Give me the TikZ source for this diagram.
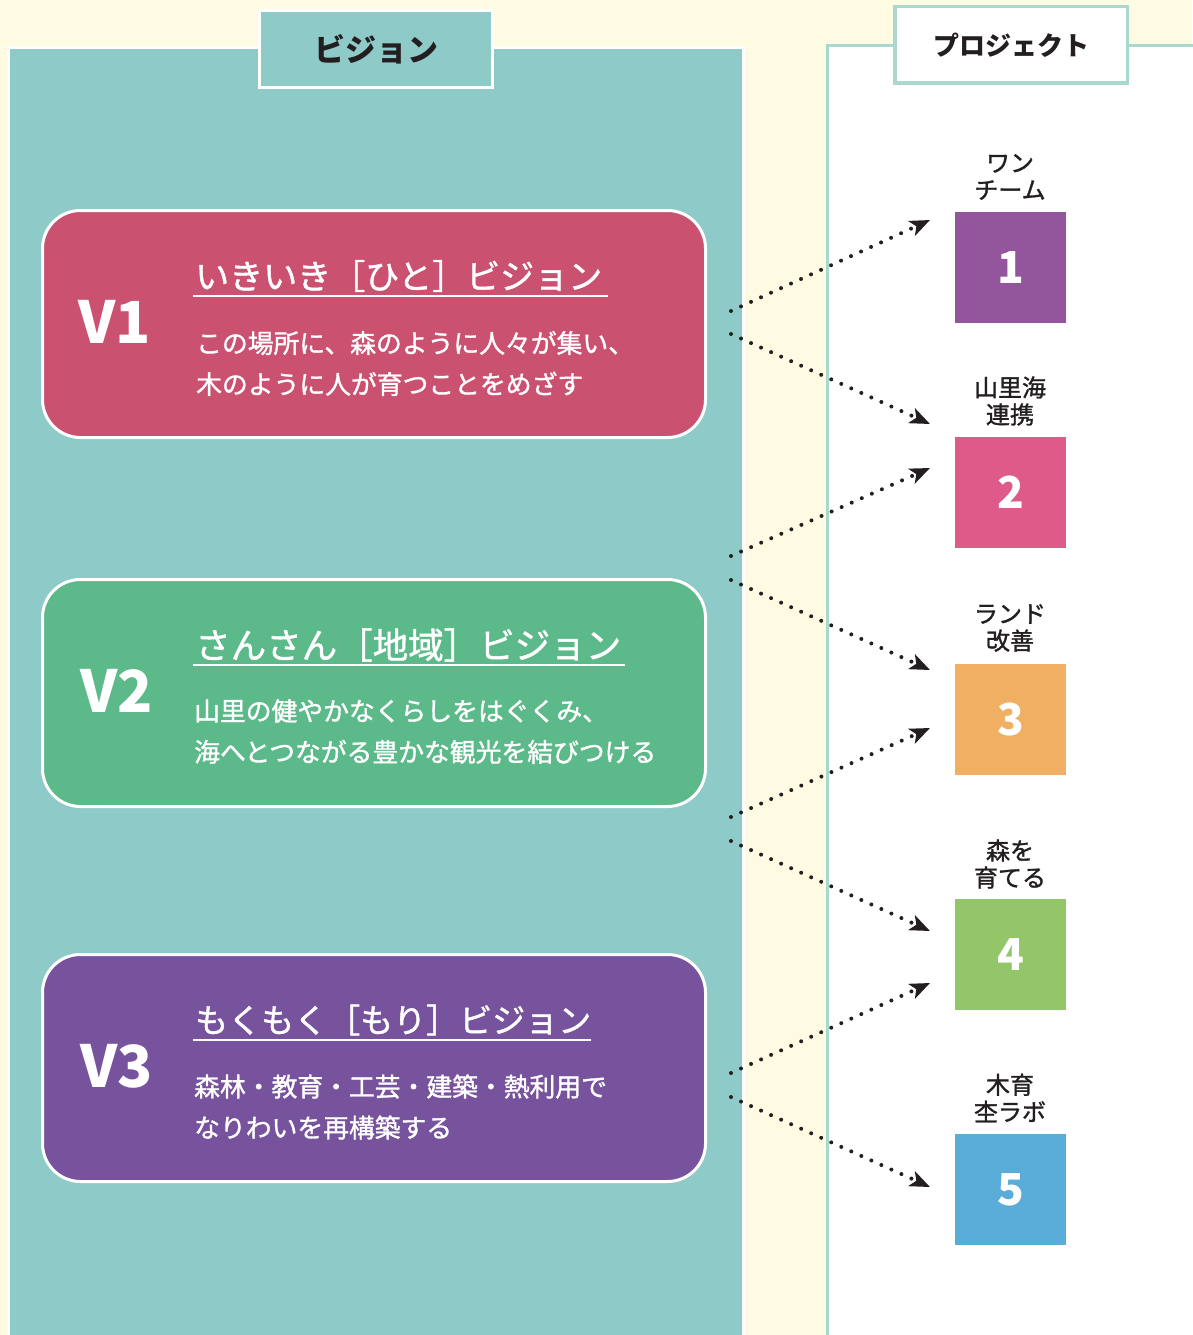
\documentclass[tikz,border=0pt]{standalone}
\usepackage{fontspec}
\setmainfont{Noto Sans CJK JP}
\newfontfamily\jpmed{Noto Sans CJK JP}[FakeBold=1.3]
\usetikzlibrary{arrows.meta}
\definecolor{cream}{HTML}{FFFBE3}
\definecolor{tealp}{HTML}{8ECAC7}
\definecolor{mint}{HTML}{A9D8CE}
\definecolor{inkc}{HTML}{231F20}
\definecolor{vone}{HTML}{CB5171}
\definecolor{vtwo}{HTML}{5CB98A}
\definecolor{vthree}{HTML}{77529D}
\definecolor{pone}{HTML}{93559B}
\definecolor{ptwo}{HTML}{DE5A88}
\definecolor{pthree}{HTML}{F0AF62}
\definecolor{pfour}{HTML}{93C569}
\definecolor{pfive}{HTML}{59ADD8}
\tikzset{
  visbox/.style={draw=white, line width=3pt, rounded corners=38pt, minimum width=663pt, minimum height=227pt},
  vlabel/.style={text=white, font=\fontsize{58}{60}\selectfont\bfseries, inner sep=0pt},
  vtitle/.style={text=white, anchor=west, inner sep=0pt},
  vdesc/.style={text=white, anchor=west, inner sep=0pt, align=left, font=\jpmed\fontsize{25.8}{41}\selectfont},
  uline/.style={white, line width=2pt},
  psq/.style={minimum width=111pt, minimum height=111pt, inner sep=0pt, text=white, font=\fontsize{44}{44}\selectfont\bfseries},
  plabel/.style={text=inkc, align=center, inner sep=0pt, font=\jpmed\fontsize{24}{27}\selectfont},
  dotarrow/.style={inkc, line width=4pt, line cap=round, dash pattern=on 0pt off 11pt, -{Stealth[length=20pt,width=16pt,inset=5pt]}}
}
\begin{document}
\begin{tikzpicture}[x=1pt,y=-1pt]
\useasboundingbox (0,0) rectangle (1192,1335);
\fill[cream] (0,0) rectangle (1192,1335);
% left panel
\draw[white, line width=3pt, fill=tealp] (8,48) rectangle (743,1345);
\node[draw=white, line width=3pt, fill=tealp, minimum width=233pt, minimum height=77pt, inner sep=0pt, text=inkc, font=\fontsize{31}{32}\selectfont\bfseries] (vtab) at (376,49) {ビジョン};
% right panel
\draw[mint, line width=3.5pt, fill=white] (827.5,45.5) rectangle (1205,1345);
\node[draw=mint, line width=3.5pt, fill=white, minimum width=232.5pt, minimum height=76.5pt, inner sep=0pt, text=inkc, font=\fontsize{26}{28}\selectfont\bfseries] (ptab) at (1011,45) {プロジェクト};

% vision boxes
\node[visbox, fill=vone] (v1) at (374,324) {};
\node[visbox, fill=vtwo] (v2) at (374,693) {};
\node[visbox, fill=vthree] (v3) at (374,1068) {};

\node[vlabel] (v1l) at (115,322) {V1};
\node[vlabel] (v2l) at (117,691) {V2};
\node[vlabel] (v3l) at (117,1066) {V3};

\node[vtitle, font=\jpmed\fontsize{34}{36}\selectfont] (t1) at (195,276) {いきいき［ひと］ビジョン};
\node[vtitle, font=\jpmed\fontsize{35.5}{37}\selectfont] (t2) at (195,645) {さんさん［地域］ビジョン};
\node[vtitle, font=\jpmed\fontsize{33}{35}\selectfont] (t3) at (195,1020) {もくもく［もり］ビジョン};
\draw[uline] (193,296) -- (608,296);
\draw[uline] (193,665) -- (625,665);
\draw[uline] (193,1040) -- (591,1040);

\node[vdesc] (d1) at (196,363.5) {この場所に、森のように人々が集い、\\木のように人が育つことをめざす};
\node[vdesc] (d2) at (194,731.5) {山里の健やかなくらしをはぐくみ、\\海へとつながる豊かな観光を結びつける};
\node[vdesc] (d3) at (194,1107) {森林・教育・工芸・建築・熱利用で\\なりわいを再構築する};

% project squares
\node[psq, fill=pone] (p1) at (1010.5,267.5) {1};
\node[psq, fill=ptwo] (p2) at (1010.5,492.5) {2};
\node[psq, fill=pthree] (p3) at (1010.5,719.5) {3};
\node[psq, fill=pfour] (p4) at (1010.5,954.5) {4};
\node[psq, fill=pfive] (p5) at (1010.5,1189.5) {5};

\node[plabel] (l1) at (1010,177) {ワン\\チーム};
\node[plabel] (l2) at (1010,401) {山里海\\連携};
\node[plabel] (l3) at (1010,628) {ランド\\改善};
\node[plabel] (l4) at (1010,864) {森を\\育てる};
\node[plabel] (l5) at (1010,1098) {木育\\杢ラボ};

% arrows
\coordinate (s1) at (731,311); \coordinate (e1) at (930,220);
\coordinate (s2) at (731,334); \coordinate (e2) at (930,424);
\coordinate (s3) at (731,556); \coordinate (e3) at (930,468);
\coordinate (s4) at (731,580); \coordinate (e4) at (930,670);
\coordinate (s5) at (731,817); \coordinate (e5) at (930,728);
\coordinate (s6) at (731,841); \coordinate (e6) at (930,931);
\coordinate (s7) at (731,1073); \coordinate (e7) at (930,983);
\coordinate (s8) at (731,1097); \coordinate (e8) at (930,1187);
\foreach \i in {1,...,8} {\draw[dotarrow] (s\i) -- (e\i);}
\end{tikzpicture}
\end{document}
